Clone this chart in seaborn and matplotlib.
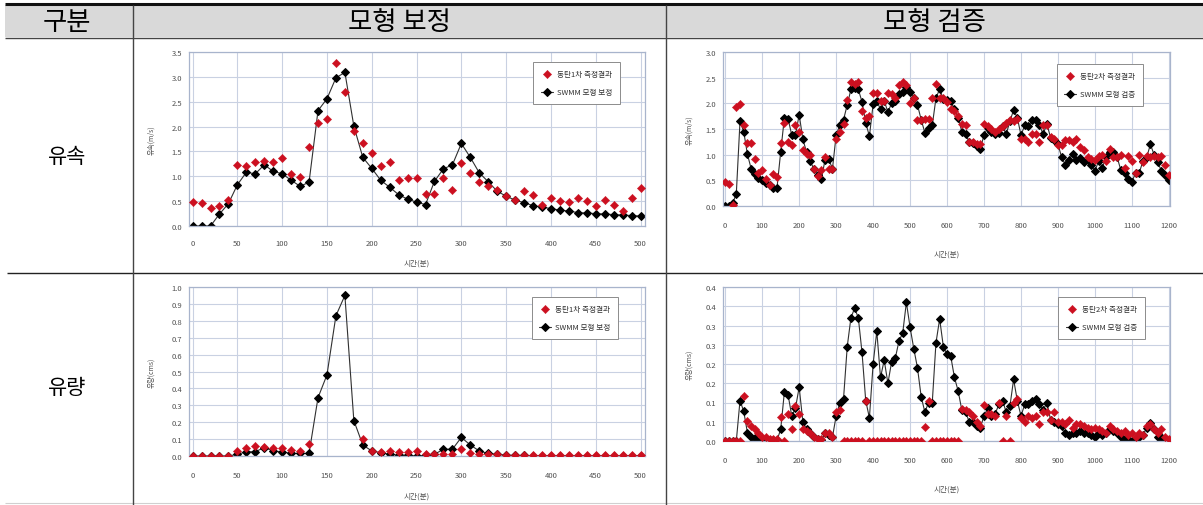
import numpy as np
import pandas as pd
import matplotlib
matplotlib.use("Agg")
import matplotlib.pyplot as plt
from matplotlib.lines import Line2D
from matplotlib.patches import Rectangle
import seaborn as sns

# ---------------------------------------------------------------- data
# sampling times (minutes)
t_cal = np.arange(0, 510, 10)      # calibration event: 0-500 min
t_val = np.arange(0, 1210, 10)     # validation event: 0-1200 min

# velocity (m/s), calibration event
vel_cal_obs = [0.48, 0.46, 0.36, 0.40, 0.53, 1.23, 1.21, 1.29, 1.31, 1.29,
               1.36, 1.04, 0.98, 1.59, 2.08, 2.15, 3.28, 2.70, 1.92, 1.66,
               1.47, 1.20, 1.28, 0.92, 0.97, 0.97, 0.65, 0.65, 0.97, 0.72,
               1.27, 1.07, 0.89, 0.80, 0.72, 0.60, 0.52, 0.70, 0.62, 0.43,
               0.56, 0.50, 0.48, 0.57, 0.50, 0.40, 0.52, 0.43, 0.30, 0.57,
               0.76]
vel_cal_sim = [0.00, 0.00, 0.00, 0.24, 0.45, 0.83, 1.08, 1.05, 1.23, 1.10,
               1.05, 0.92, 0.80, 0.88, 2.32, 2.56, 2.98, 3.09, 2.01, 1.38,
               1.16, 0.92, 0.78, 0.63, 0.54, 0.48, 0.43, 0.90, 1.15, 1.23,
               1.66, 1.38, 1.07, 0.89, 0.70, 0.60, 0.52, 0.47, 0.41, 0.38,
               0.35, 0.32, 0.30, 0.27, 0.26, 0.25, 0.24, 0.23, 0.22, 0.21,
               0.20]

# flow (cms), calibration event
flow_cal_obs = [0.0, 0.0, 0.0, 0.0, 0.0, 0.030, 0.045, 0.060, 0.055, 0.050,
                0.045, 0.035, 0.030, 0.070, np.nan, np.nan, np.nan, np.nan, np.nan, 0.100,
                0.030, 0.025, 0.030, 0.025, 0.025, 0.030, 0.010, 0.010, 0.010, 0.010,
                0.040, 0.020, 0.010, 0.010, 0.010, 0.005, 0.005, 0.008, 0.005, 0.005,
                0.006, 0.005, 0.005, 0.006, 0.005, 0.005, 0.007, 0.005, 0.005, 0.005,
                0.008]
flow_cal_sim = [0.0, 0.0, 0.0, 0.0, 0.0, 0.010, 0.025, 0.025, 0.050, 0.030,
                0.025, 0.015, 0.015, 0.015, 0.345, 0.480, 0.830, 0.950, 0.210, 0.065,
                0.030, 0.020, 0.010, 0.005, 0.005, 0.000, 0.005, 0.010, 0.040, 0.040,
                0.110, 0.065, 0.030, 0.015, 0.010, 0.005, 0.003, 0.003, 0.002, 0.002,
                0.002, 0.002, 0.002, 0.002, 0.002, 0.002, 0.002, 0.002, 0.002, 0.002,
                0.002]

# velocity (m/s), validation event
vel_val_obs = [0.46, 0.43, 0.02, 1.93, 1.98, 1.58, 1.23, 1.23, 0.92, 0.65,
               0.70, 0.53, 0.40, 0.62, 0.57, 1.22, 1.62, 1.25, 1.18, 1.58,
               1.45, 1.10, 1.02, 1.00, 0.72, 0.58, 0.70, 0.95, 0.72, 0.72,
               1.30, 1.45, 1.60, 2.07, 2.42, 2.38, 2.42, 1.85, 1.72, 1.75,
               2.20, 2.20, 2.05, 2.05, 2.20, 2.18, 2.10, 2.35, 2.42, 2.35,
               2.00, 2.10, 1.68, 1.68, 1.70, 1.70, 2.10, 2.38, 2.10, 2.10,
               2.03, 1.88, 1.85, 1.75, 1.60, 1.58, 1.25, 1.25, 1.20, 1.20,
               1.60, 1.55, 1.50, 1.45, 1.50, 1.55, 1.62, 1.68, 1.65, 1.70,
               1.30, 1.30, 1.25, 1.40, 1.40, 1.25, 1.58, 1.58, 1.35, 1.30,
               1.18, 1.18, 1.28, 1.28, 1.25, 1.30, 1.15, 1.10, 0.95, 0.92,
               0.90, 0.97, 1.00, 0.88, 1.12, 0.95, 0.95, 1.00, 0.75, 0.97,
               0.88, 0.65, 1.00, 0.85, 0.98, 0.95, 0.97, 0.95, 0.98, 0.80,
               0.60]
vel_val_sim = [0.00, 0.00, 0.05, 0.24, 1.65, 1.45, 1.01, 0.73, 0.63, 0.55,
               0.50, 0.45, 0.40, 0.35, 0.35, 1.05, 1.72, 1.70, 1.38, 1.38,
               1.78, 1.30, 1.05, 0.87, 0.72, 0.60, 0.52, 0.90, 0.92, 0.72,
               1.38, 1.58, 1.68, 1.97, 2.27, 2.30, 2.27, 2.03, 1.62, 1.36,
               1.98, 2.05, 1.88, 2.05, 1.83, 2.00, 2.05, 2.18, 2.22, 2.32,
               2.22, 2.10, 1.97, 1.68, 1.43, 1.52, 1.57, 2.10, 2.28, 2.08,
               2.07, 2.05, 1.88, 1.72, 1.45, 1.40, 1.25, 1.22, 1.17, 1.12,
               1.38, 1.52, 1.45, 1.40, 1.42, 1.55, 1.40, 1.65, 1.87, 1.72,
               1.38, 1.57, 1.55, 1.67, 1.68, 1.57, 1.40, 1.60, 1.33, 1.28,
               1.20, 0.95, 0.80, 0.90, 1.02, 0.90, 0.93, 0.85, 0.90, 0.80,
               0.68, 0.88, 0.75, 0.95, 1.05, 1.05, 0.95, 0.70, 0.65, 0.52,
               0.47, 0.65, 0.65, 0.88, 0.95, 1.20, 1.00, 0.85, 0.68, 0.60,
               0.50]

# flow (cms), validation event
flow_val_obs = [0.0, 0.0, 0.0, 0.0, 0.0, 0.117, 0.052, 0.040, 0.030, 0.020,
                0.010, 0.010, 0.005, 0.005, 0.005, 0.062, 0.0, 0.070, 0.030, 0.090,
                0.070, 0.030, 0.025, 0.020, 0.010, 0.005, 0.005, 0.020, 0.020, 0.010,
                0.075, 0.080, 0.0, 0.0, 0.0, 0.0, 0.0, 0.0, 0.105, 0.0,
                0.0, 0.0, 0.0, 0.0, 0.0, 0.0, 0.0, 0.0, 0.0, 0.0,
                0.0, 0.0, 0.0, 0.0, 0.036, 0.105, 0.0, 0.0, 0.0, 0.0,
                0.0, 0.0, 0.0, 0.0, 0.083, 0.080, 0.075, 0.065, 0.050, 0.040,
                0.094, 0.070, 0.070, 0.065, 0.100, 0.0, 0.065, 0.0, 0.100, 0.110,
                0.060, 0.050, 0.065, 0.060, 0.065, 0.045, 0.075, 0.075, 0.055, 0.075,
                0.050, 0.050, 0.045, 0.055, 0.035, 0.045, 0.045, 0.040, 0.035, 0.030,
                0.035, 0.030, 0.025, 0.020, 0.040, 0.030, 0.025, 0.020, 0.025, 0.015,
                0.020, 0.010, 0.020, 0.015, 0.040, 0.045, 0.030, 0.020, 0.030, 0.010,
                0.005]
flow_val_sim = [0.0, 0.0, 0.0, 0.0, 0.105, 0.077, 0.022, 0.010, 0.007, 0.004,
                0.003, 0.002, 0.002, 0.002, 0.002, 0.030, 0.127, 0.120, 0.065, 0.085,
                0.140, 0.050, 0.030, 0.020, 0.010, 0.005, 0.003, 0.020, 0.015, 0.010,
                0.065, 0.100, 0.110, 0.245, 0.320, 0.345, 0.320, 0.230, 0.105, 0.060,
                0.200, 0.285, 0.165, 0.210, 0.150, 0.205, 0.215, 0.260, 0.280, 0.360,
                0.295, 0.240, 0.190, 0.115, 0.075, 0.100, 0.100, 0.255, 0.317, 0.245,
                0.225, 0.220, 0.165, 0.130, 0.080, 0.075, 0.050, 0.050, 0.040, 0.035,
                0.065, 0.085, 0.065, 0.070, 0.095, 0.105, 0.075, 0.090, 0.160, 0.105,
                0.065, 0.095, 0.095, 0.105, 0.110, 0.095, 0.080, 0.100, 0.055, 0.050,
                0.045, 0.040, 0.020, 0.015, 0.020, 0.020, 0.025, 0.020, 0.020, 0.015,
                0.010, 0.020, 0.015, 0.020, 0.030, 0.025, 0.020, 0.010, 0.005, 0.005,
                0.000, 0.005, 0.010, 0.015, 0.035, 0.048, 0.030, 0.010, 0.010, 0.005,
                0.000]

# table texts
col_headers = ["구분", "모형 보정", "모형 검증"]
row_headers = ["유속", "유량"]
obs_labels = ["동탄1차 측정결과", "동탄2차 측정결과"]
sim_labels = ["SWMM 모형 보정", "SWMM 모형 검증"]
y_titles = ["유속(m/s)", "유량(cms)"]
x_title = "시간(분)"

# y tick labels of the validation flow panel (0.05 steps shown to one decimal)
flow_val_yticks = [0.0, 0.05, 0.10, 0.15, 0.20, 0.25, 0.30, 0.35, 0.40]
flow_val_yticklabels = ["0.0", "0.1", "0.1", "0.2", "0.2", "0.3", "0.3", "0.4", "0.4"]

# ---------------------------------------------------------------- style
sns.set_theme(style="white")
plt.rcParams['font.family'] = ['Noto Sans CJK KR', 'DejaVu Sans']

W, H = 1203, 506
fig = plt.figure(figsize=(W / 100, H / 100), dpi=100)
fig.patch.set_facecolor("white")


def fx(x):
    return x / W


def fy(y):
    return 1 - y / H


def hline(y, x0, x1, color, lw):
    fig.add_artist(Line2D([fx(x0), fx(x1)], [fy(y), fy(y)], transform=fig.transFigure,
                          color=color, lw=lw, solid_capstyle="butt"))


def vline(x, y0, y1, color, lw):
    fig.add_artist(Line2D([fx(x), fx(x)], [fy(y0), fy(y1)], transform=fig.transFigure,
                          color=color, lw=lw, solid_capstyle="butt"))


# ---------------------------------------------------------------- table frame
fig.add_artist(Rectangle((fx(5), fy(38)), fx(1203) - fx(5), fy(6) - fy(38),
                         transform=fig.transFigure, facecolor="#d9d9d9",
                         edgecolor="none", zorder=0))
hline(5, 5, 1203, "#111111", 2.2)
hline(38.5, 5, 1203, "#444444", 1.0)
hline(274, 7, 1203, "#222222", 1.0)
hline(504, 5, 1203, "#d0d0d0", 0.8)
vline(133, 6, 506, "#444444", 1.0)
vline(666, 6, 506, "#444444", 1.0)

header_x = [67, 399.5, 934.5]
for x, txt in zip(header_x, col_headers):
    fig.text(fx(x), fy(22), txt, ha="center", va="center", fontsize=19,
             fontweight="medium", color="black")
for y, txt in zip([157, 388], row_headers):
    fig.text(fx(67), fy(y), txt, ha="center", va="center", fontsize=15,
             color="black")

# ---------------------------------------------------------------- panels
RED = "#cc1020"
GRID = "#c9d1e2"
SPINE = "#a8b4cc"
TXT = "#505050"


def add_axes_px(l, t, r, b):
    return fig.add_axes([fx(l), fy(b), fx(r) - fx(l), fy(t) - fy(b)])


def panel(ax, t, obs, sim, obs_label, sim_label, ytitle, ylim, yticks, yticklabels,
          xlim, xticks, ylab_x, xlab_y, legend_anchor, xpad):
    df = pd.DataFrame({"t": t, "obs": obs, "sim": sim})
    sns.lineplot(data=df, x="t", y="sim", ax=ax, color="#303030", lw=0.8,
                 marker="D", markersize=4.0, markerfacecolor="black",
                 markeredgecolor="black", label=sim_label, errorbar=None,
                 sort=False, zorder=2)
    sns.scatterplot(data=df, x="t", y="obs", ax=ax, color=RED, marker="D", s=18,
                    edgecolor=RED, linewidth=0.3, label=obs_label, zorder=3)
    ax.set_xlim(*xlim)
    ax.set_ylim(*ylim)
    ax.set_xticks(xticks)
    ax.set_xticklabels([str(v) for v in xticks])
    ax.set_yticks(yticks)
    ax.set_yticklabels(yticklabels)
    ax.grid(True, color=GRID, lw=0.8)
    ax.set_axisbelow(True)
    for sp in ax.spines.values():
        sp.set_color(SPINE)
        sp.set_linewidth(0.9)
    ax.tick_params(axis="both", length=0, labelsize=5.5, labelcolor=TXT)
    ax.tick_params(axis="x", pad=xpad)
    ax.tick_params(axis="y", pad=5)
    ax.set_xlabel(x_title, fontsize=5.5, color=TXT)
    ax.set_ylabel(ytitle, fontsize=5, color=TXT)
    ax.xaxis.set_label_coords(0.5, xlab_y)
    ax.yaxis.set_label_coords(ylab_x, 0.5)
    handles, labels = ax.get_legend_handles_labels()
    leg = ax.legend(handles[::-1], labels[::-1], loc="upper right",
                    bbox_to_anchor=legend_anchor, borderaxespad=0, fontsize=5.5,
                    frameon=True, fancybox=False, edgecolor="#8c8c8c",
                    framealpha=1, labelspacing=1.4, borderpad=1.0,
                    handlelength=1.6, handletextpad=0.5)
    leg.get_frame().set_linewidth(0.7)
    for txt in leg.get_texts():
        txt.set_color("#303030")


vel_ticks_cal = [0.0, 0.5, 1.0, 1.5, 2.0, 2.5, 3.0, 3.5]
vel_ticks_val = [0.0, 0.5, 1.0, 1.5, 2.0, 2.5, 3.0]
flow_ticks_cal = [0.0, 0.1, 0.2, 0.3, 0.4, 0.5, 0.6, 0.7, 0.8, 0.9, 1.0]
xt_cal = list(range(0, 501, 50))
xt_val = list(range(0, 1201, 100))

ax1 = add_axes_px(189, 53, 645, 227)
panel(ax1, t_cal, vel_cal_obs, vel_cal_sim, obs_labels[0], sim_labels[0], y_titles[0],
      (0, 3.5), vel_ticks_cal, [f"{v:.1f}" for v in vel_ticks_cal],
      (-4, 505), xt_cal, -0.075, -0.19, (0.945, 0.943), 9)

ax2 = add_axes_px(723, 53, 1170, 207)
panel(ax2, t_val, vel_val_obs, vel_val_sim, obs_labels[1], sim_labels[1], y_titles[0],
      (0, 3.0), vel_ticks_val, [f"{v:.1f}" for v in vel_ticks_val],
      (-6, 1203), xt_val, -0.067, -0.28, (0.94, 0.922), 11)

ax3 = add_axes_px(189, 288, 645, 457)
panel(ax3, t_cal, flow_cal_obs, flow_cal_sim, obs_labels[0], sim_labels[0], y_titles[1],
      (0, 1.0), flow_ticks_cal, [f"{v:.1f}" for v in flow_ticks_cal],
      (-4, 505), xt_cal, -0.075, -0.213, (0.941, 0.941), 11)

ax4 = add_axes_px(723, 288, 1170, 442)
panel(ax4, t_val, flow_val_obs, flow_val_sim, obs_labels[1], sim_labels[1], y_titles[1],
      (0, 0.4), flow_val_yticks, flow_val_yticklabels,
      (-6, 1203), xt_val, -0.067, -0.28, (0.944, 0.935), 11)

fig.savefig("out.png", dpi=100, facecolor="white")
